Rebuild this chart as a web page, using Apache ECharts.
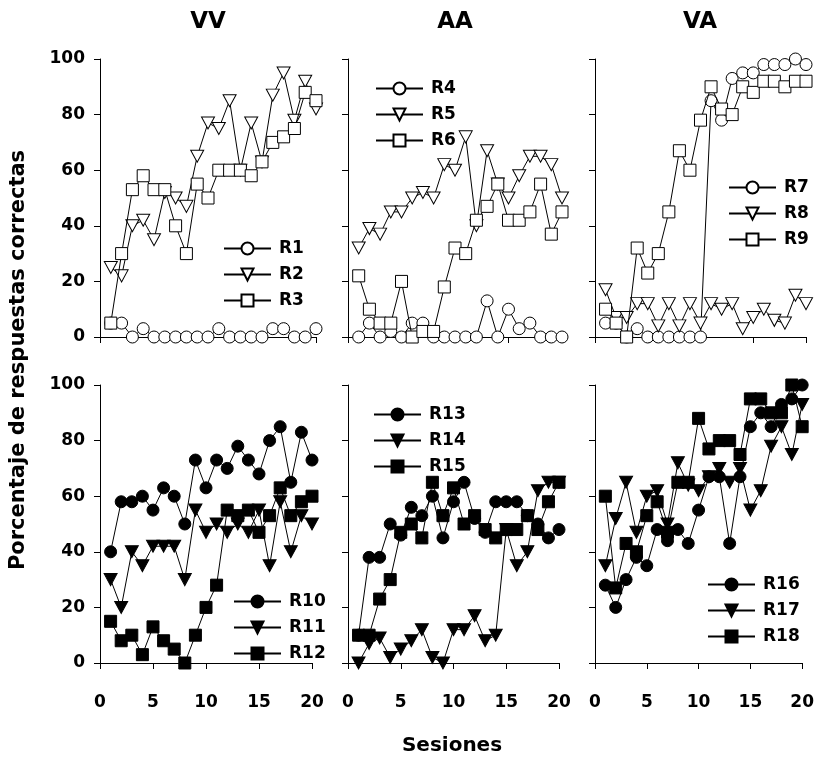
<!DOCTYPE html>
<html lang="es">
  <head>
    <meta charset="UTF-8" />
    <title>Porcentaje de respuestas correctas</title>
    <script src="https://cdn.jsdelivr.net/npm/echarts@6/dist/echarts.min.js"></script>
    <style>
      body { margin: 0; background: #fff; }
    </style>
  </head>
  <body>
    <div id="main" style="width: 817px; height: 758px"></div>
    <script type="text/javascript">
      const sessions = [1, 2, 3, 4, 5, 6, 7, 8, 9, 10, 11, 12, 13, 14, 15, 16, 17, 18, 19, 20];
      const xTicks = [0, 5, 10, 15, 20];
      const yTicks = [0, 20, 40, 60, 80, 100];
      const panelTitles = ["VV", "AA", "VA"];

      // VV, arriba
      const R1 = [5, 5, 0, 3, 0, 0, 0, 0, 0, 0, 3, 0, 0, 0, 0, 3, 3, 0, 0, 3];
      const R2 = [25, 22, 40, 42, 35, 52, 50, 47, 65, 77, 75, 85, 60, 77, 63, 87, 95, 78, 92, 82];
      const R3 = [5, 30, 53, 58, 53, 53, 40, 30, 55, 50, 60, 60, 60, 58, 63, 70, 72, 75, 88, 85];
      // AA, arriba
      const R4 = [0, 5, 0, 2, 0, 5, 5, 0, 0, 0, 0, 0, 13, 0, 10, 3, 5, 0, 0, 0];
      const R5 = [32, 39, 37, 45, 45, 50, 52, 50, 62, 60, 72, 40, 67, 55, 50, 58, 65, 65, 62, 50];
      const R6 = [22, 10, 5, 5, 20, 0, 2, 2, 18, 32, 30, 42, 47, 55, 42, 42, 45, 55, 37, 45];
      // VA, arriba
      const R7 = [5, 5, 0, 3, 0, 0, 0, 0, 0, 0, 85, 78, 93, 95, 95, 98, 98, 98, 100, 98];
      const R8 = [17, 7, 7, 12, 12, 4, 12, 4, 12, 5, 12, 10, 12, 3, 7, 10, 6, 5, 15, 12];
      const R9 = [10, 5, 0, 32, 23, 30, 45, 67, 60, 78, 90, 82, 80, 90, 88, 92, 92, 90, 92, 92];
      // VV, abajo
      const R10 = [40, 58, 58, 60, 55, 63, 60, 50, 73, 63, 73, 70, 78, 73, 68, 80, 85, 65, 83, 73];
      const R11 = [30, 20, 40, 35, 42, 42, 42, 30, 55, 47, 50, 47, 50, 47, 55, 35, 58, 40, 53, 50];
      const R12 = [15, 8, 10, 3, 13, 8, 5, 0, 10, 20, 28, 55, 53, 55, 47, 53, 63, 53, 58, 60];
      // AA, abajo
      const R13 = [10, 38, 38, 50, 46, 56, 53, 60, 45, 58, 65, 52, 47, 58, 58, 58, 53, 50, 45, 48];
      const R14 = [0, 7, 9, 2, 5, 8, 12, 2, 0, 12, 12, 17, 8, 10, 48, 35, 40, 62, 65, 65];
      const R15 = [10, 10, 23, 30, 47, 50, 45, 65, 53, 63, 50, 53, 48, 45, 48, 48, 53, 48, 58, 65];
      // VA, abajo
      const R16 = [28, 20, 30, 38, 35, 48, 44, 48, 43, 55, 67, 67, 43, 67, 85, 90, 85, 93, 95, 100];
      const R17 = [35, 52, 65, 47, 60, 62, 50, 72, 64, 62, 67, 70, 65, 70, 55, 62, 78, 85, 75, 93];
      const R18 = [60, 27, 43, 40, 53, 58, 47, 65, 65, 88, 77, 80, 80, 75, 95, 95, 90, 90, 100, 85];

      const panels = [
        { names: ["R1", "R2", "R3"], values: [R1, R2, R3], filled: false },
        { names: ["R4", "R5", "R6"], values: [R4, R5, R6], filled: false },
        { names: ["R7", "R8", "R9"], values: [R7, R8, R9], filled: false },
        { names: ["R10", "R11", "R12"], values: [R10, R11, R12], filled: true },
        { names: ["R13", "R14", "R15"], values: [R13, R14, R15], filled: true },
        { names: ["R16", "R17", "R18"], values: [R16, R17, R18], filled: true },
      ];

      const FONT = "DejaVu Sans";
      const downTriangle = "path://M0,0L20,0L10,18Z";
      const shapes = ["circle", downTriangle, "rect"];

      const grids = [
        { left: 100, top: 59, width: 216, height: 278 },
        { left: 348, top: 59, width: 214, height: 278 },
        { left: 595, top: 59, width: 211, height: 278 },
        { left: 100, top: 385, width: 212, height: 278 },
        { left: 348, top: 385, width: 211, height: 278 },
        { left: 595, top: 385, width: 211, height: 278 },
      ];
      const legendPos = [
        { left: 218, top: 235 },
        { left: 370, top: 75 },
        { left: 723, top: 174 },
        { left: 228, top: 588 },
        { left: 368, top: 401 },
        { left: 702, top: 571 },
      ];

      const xAxis = grids.map((g, i) => ({
        type: "value",
        gridIndex: i,
        min: xTicks[0],
        max: xTicks[xTicks.length - 1],
        interval: 5,
        offset: i < 3 ? 20 : 19,
        axisLine: { lineStyle: { color: "#000", width: 1 } },
        axisTick: { length: 6, lineStyle: { color: "#000" } },
        axisLabel: {
          show: i >= 3,
          margin: 12,
          color: "#000",
          fontFamily: FONT,
          fontWeight: "bold",
          fontSize: 17,
        },
        splitLine: { show: false },
      }));

      const yAxis = grids.map((g, i) => ({
        type: "value",
        gridIndex: i,
        min: yTicks[0],
        max: yTicks[yTicks.length - 1],
        interval: 20,
        axisLine: { show: true, lineStyle: { color: "#000", width: 1 } },
        axisTick: { show: true, length: 6, lineStyle: { color: "#000" } },
        axisLabel: {
          show: i % 3 === 0,
          margin: 15,
          color: "#000",
          fontFamily: FONT,
          fontWeight: "bold",
          fontSize: 17,
        },
        splitLine: { show: false },
      }));

      const series = [];
      panels.forEach((p, i) => {
        p.names.forEach((name, k) => {
          series.push({
            name: name,
            type: "line",
            xAxisIndex: i,
            yAxisIndex: i,
            data: sessions.map((s, j) => [s, p.values[k][j]]),
            symbol: shapes[k],
            symbolSize: k === 1 ? [13, 12] : 12,
            showAllSymbol: true,
            lineStyle: { color: "#000", width: 1 },
            itemStyle: {
              color: p.filled ? "#000" : "#fff",
              borderColor: "#000",
              borderWidth: 1,
            },
            z: 2 + k,
            animation: false,
          });
        });
      });

      const legend = panels.map((p, i) => ({
        data: p.names,
        orient: "vertical",
        left: legendPos[i].left,
        top: legendPos[i].top,
        itemWidth: 47,
        itemHeight: 15,
        itemGap: 9,
        selectedMode: false,
        textStyle: {
          color: "#000",
          fontFamily: FONT,
          fontWeight: "bold",
          fontSize: 17,
          padding: [0, 0, 0, 3],
        },
      }));

      const titleCenters = [208, 455, 700];
      const graphic = panelTitles.map((t, i) => ({
        type: "text",
        x: titleCenters[i],
        y: 22,
        style: {
          text: t,
          fill: "#000",
          font: "bold 23px '" + FONT + "'",
          textAlign: "center",
          textVerticalAlign: "middle",
        },
      }));
      graphic.push({
        type: "text",
        x: 19,
        y: 360,
        rotation: Math.PI / 2,
        style: {
          text: "Porcentaje de respuestas correctas",
          fill: "#000",
          font: "bold 21px '" + FONT + "'",
          textAlign: "center",
          textVerticalAlign: "middle",
        },
      });
      graphic.push({
        type: "text",
        x: 452,
        y: 746,
        style: {
          text: "Sesiones",
          fill: "#000",
          font: "bold 20px '" + FONT + "'",
          textAlign: "center",
          textVerticalAlign: "middle",
        },
      });

      const myChart = echarts.init(document.getElementById("main"));
      myChart.setOption({
        backgroundColor: "#fff",
        animation: false,
        grid: grids,
        xAxis: xAxis,
        yAxis: yAxis,
        legend: legend,
        graphic: graphic,
        series: series,
      });
    </script>
  </body>
</html>
